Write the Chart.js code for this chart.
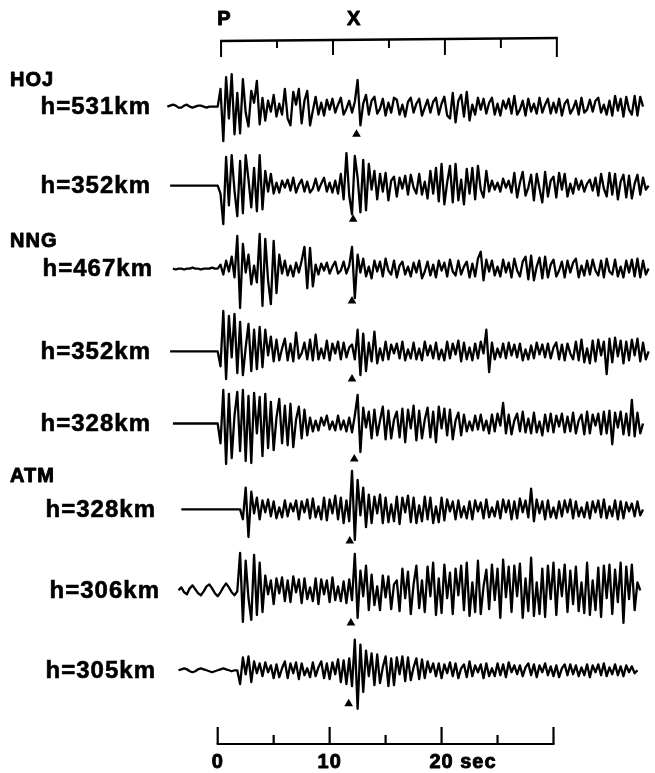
<!DOCTYPE html>
<html>
<head>
<meta charset="utf-8">
<script src="https://cdn.jsdelivr.net/npm/chart.js@4/dist/chart.umd.min.js"></script>
<style>
html,body{margin:0;padding:0;background:#fff;}
#c{display:block;}
</style>
</head>
<body>
<canvas id="c" width="655" height="773"></canvas>
<script>
// ---------- DATA ----------
const sampleStep = 0.25; // seconds between samples
const traceStart = [-4.5, -4.25, -4.0, -4.25, -4.0, -3.25, -3.5, -3.5]; // seconds
const stationNames = ['HOJ', 'NNG', 'ATM'];
const stationFirstTrace = [0, 2, 5];
const depthLabels = ['h=531km', 'h=352km', 'h=467km', 'h=352km', 'h=328km', 'h=328km', 'h=306km', 'h=305km'];
const arrivalTimeX = [12.4, 12.1, 12.0, 12.0, 12.2, 11.8, 11.9, 11.7]; // triangle marks (s)
const timeTicks = [0, 5, 10, 15, 20, 25, 30];
const timeTickLabels = ['0', '10', '20 sec'];
const timeTickLabelValues = [0, 10, 20];
const topMarkers = ['P', 'X'];
const topMarkerTimes = [0.6, 12.2];

// amplitudes (positive = up), one sample per 0.25 s
const hoj531 = [
 0,1,2,1,-1,-1,1,2,0,-1,0,1,1,0,-1,0,0,0,
 0,18,-35,30,-12,33,-28,14,
 -27,28,-6,-20,16,4,26,-18,
 9,-14,6,-5,12,-10,3,-8,
 18,-12,-19,15,2,18,-17,6,
 16,-19,-4,10,-8,4,-9,7,
 -3,8,-6,2,9,-8,-2,6,
 -6,5,27,-19,3,12,-8,6,
 10,-7,-2,8,-9,4,-6,9,
 7,-8,2,-10,5,9,-6,3,
 8,-9,-1,7,-6,5,9,-8,
 3,10,-9,-12,14,-16,6,12,
 -10,15,-14,2,-8,9,-3,8,
 -7,4,9,-8,3,-9,6,-2,
 8,-7,11,-8,-3,6,-9,8,
 -5,3,-7,9,-6,2,8,-7,
 4,-6,8,-9,3,7,-7,-2,
 6,-8,9,-6,-3,7,-5,6,
 9,-6,2,-8,6,-9,11,-4,
 8,-10,10,-3,-8,11,-9,10,
 0];
const hoj352 = [
 0,0,0,0,0,0,0,0,0,0,0,0,0,0,0,0,0,
 0,-8,-39,29,-20,31,-5,-31,
 25,-28,31,6,-22,18,-26,31,
 -24,15,-6,12,-8,3,-7,5,
 -2,6,-5,8,-7,1,6,-6,
 4,-7,-3,7,-5,2,8,-6,
 3,-7,5,-8,12,-14,33,-10,
 -29,30,8,-27,26,-25,22,-4,
 15,-14,12,-6,13,-15,5,9,
 -11,8,-3,10,-9,11,-2,-8,
 12,-9,4,-13,15,-8,18,-16,
 22,-19,3,20,-17,22,-15,6,
 -19,17,-8,18,-14,20,-4,-12,
 15,-6,5,-4,3,-6,7,-2,
 5,-7,13,-12,3,14,-10,-2,
 11,-15,12,-3,-17,14,-11,5,
 9,-12,13,-4,12,-11,2,-8,
 7,-4,5,-6,2,6,-5,8,
 -10,12,-3,-11,13,-9,12,-14,
 4,11,-12,10,-13,2,11,-9,
 8,-4,0];
const nng467 = [
 0,-1,0,0,-1,0,0,1,0,0,-1,0,0,0,1,0,
 0,4,-6,8,-3,12,-9,33,
 -40,25,-4,14,-16,3,-14,35,
 -38,30,-12,-36,28,-25,14,-5,
 8,-7,3,-8,6,-4,8,22,
 -20,21,-18,4,-6,5,-2,6,
 -5,2,7,-5,-2,7,-5,3,
 22,-30,14,-4,10,-8,2,-10,
 8,-3,7,-8,10,-2,-6,8,
 -9,3,7,-6,2,-8,6,-4,
 8,-10,-3,7,-7,4,-9,8,
 -2,6,-8,9,-3,-7,8,-6,
 2,7,-9,5,-8,10,17,-12,
 9,-3,8,-7,2,-8,9,-4,
 6,-9,10,-2,-8,7,12,-11,
 13,-12,2,11,-10,12,-9,4,
 9,-8,-2,7,-9,8,-4,6,
 10,-9,3,-7,8,-6,9,-2,
 -7,8,-9,10,-3,-6,9,-8,
 2,-9,8,-4,9,-8,10,-9,
 8,-6,0];
const nng352 = [
 0,0,0,0,0,0,0,0,0,0,0,0,0,0,0,0,0,
 0,-15,41,-28,36,-6,38,-22,
 30,-24,4,28,-20,22,-18,25,
 -16,22,-4,15,-10,12,-9,3,
 13,-9,8,-10,19,-7,-2,9,
 -8,12,-9,17,-8,3,-7,11,
 -9,8,-2,10,-8,9,-6,4,
 7,-8,22,-24,18,-20,9,-10,
 20,-12,3,-9,10,-8,7,-2,
 8,-7,10,-9,2,-7,9,-8,
 3,-9,10,-4,6,-7,9,-8,
 2,-9,10,-7,8,-3,11,-10,
 9,-8,4,-9,8,-7,10,-2,
 22,-21,9,-8,3,-6,8,-7,
 9,-4,7,-6,8,-9,2,-8,
 6,-7,9,-3,7,-6,8,-7,
 4,9,-8,7,-9,8,-2,-8,
 10,-9,12,-11,3,-12,11,-10,
 12,-4,10,-23,13,-11,14,-5,
 11,-12,10,-9,12,-4,13,-10,
 9,-8,0];
const nng328 = [
 0,0,0,0,0,0,0,0,0,0,0,0,0,0,0,0,
 0,-20,34,-41,30,-35,8,32,
 -28,34,-38,28,-40,31,-10,27,
 -33,30,-25,22,-27,6,25,-20,
 18,-22,20,-24,4,17,-15,14,
 -12,6,-8,3,-7,6,-2,8,
 -6,2,-7,8,-6,3,-8,6,
 -9,8,29,-29,16,-4,12,-15,
 14,-12,3,17,-16,13,-15,4,
 12,-14,15,-19,14,-5,18,-17,
 13,-15,4,16,-14,12,-19,17,
 -5,15,-12,14,-16,3,11,-12,
 9,-8,2,-7,8,-6,9,-7,
 3,-10,9,-8,10,-2,21,-10,
 9,-11,3,10,-8,12,-9,5,
 -10,11,-9,2,-12,9,-8,10,
 -9,8,-3,10,-9,7,-8,11,
 -10,3,9,-11,12,-10,9,-2,
 10,-11,12,-10,13,-21,11,-4,
 12,-11,10,-12,24,-13,11,-10,
 0];
const atm328 = [
 0,0,0,0,0,0,0,0,0,0,0,0,0,0,0,0,0,0,0,0,0,
 0,-10,22,-28,18,-4,12,-10,
 9,-3,10,-7,8,-9,2,-8,
 9,-7,6,-2,9,-10,8,-3,
 10,-9,11,-8,3,-10,12,-11,
 10,-4,14,-10,12,-14,9,-12,
 39,-31,30,-6,22,-18,15,-14,
 13,-4,15,-14,12,-13,5,-12,
 13,-15,12,-3,14,-13,12,-14,
 4,-12,13,-10,12,-14,3,-13,
 12,-11,10,-2,8,-10,9,-8,
 3,-9,8,-10,9,-2,7,-9,
 10,-8,2,-7,8,-9,10,-3,
 9,-10,8,-9,11,-3,9,-8,
 21,-12,10,-4,8,-10,9,-8,
 2,-9,8,-7,9,-3,10,-9,
 8,-7,2,-8,7,-9,8,-3,
 9,-8,10,-9,3,-7,9,-10,
 8,-9,7,-2,6,-7,8,-6,
 0];
const atm306 = [
 0,3,-2,-4,2,5,1,-3,-5,-1,4,6,2,-3,-6,-2,3,7,3,-2,-5,-1,
 38,-32,30,-8,-30,36,-25,28,
 -22,15,-4,10,-14,12,-3,13,
 -11,10,-12,14,-2,11,-13,12,
 -9,3,-11,12,-14,11,-4,10,
 -12,13,-10,4,-11,9,-13,11,
 -10,37,-28,20,-6,25,-20,16,
 -15,4,-20,15,-7,14,-19,6,
 10,-21,22,-8,19,-24,6,25,
 -18,10,-22,24,-6,28,-25,12,
 -23,26,-8,18,-24,22,-5,25,
 -20,28,-26,8,-22,30,-24,4,
 21,-19,26,-10,22,-28,31,-7,
 24,-22,25,-6,27,-28,12,-21,
 33,-26,8,-24,22,-27,25,-9,
 28,-25,21,-6,26,-22,20,-14,
 24,-21,8,-23,28,-25,10,-20,
 23,-27,25,-8,26,-24,21,-12,
 28,-33,24,-9,26,-20,8,0];
const atm305 = [
 0,1,2,1,-1,-2,-1,1,2,1,0,-1,-2,-1,0,1,2,1,0,-1,0,0,
 -14,13,-4,14,-12,9,-3,7,
 -6,8,-2,5,-8,6,-7,2,
 9,-8,7,-3,8,-9,7,-5,
 2,-7,8,-6,3,9,-8,7,
 -9,8,-4,11,-12,10,-14,12,
 -16,31,-39,26,-22,20,-6,17,
 -15,16,-13,3,14,-16,12,-15,
 13,-4,14,-11,13,-10,3,12,
 -9,11,-8,9,-2,7,-6,7,
 -8,6,-3,8,-6,7,-8,2,
 6,-7,9,-6,5,-2,6,-8,
 7,-6,2,-6,7,-5,6,-7,
 8,-2,5,-4,5,-6,3,7,
 -5,6,-7,5,-2,7,-5,4,
 -6,5,-7,2,6,-5,6,-4,
 5,-6,3,-5,6,-7,5,-2,
 6,-5,7,-6,3,-4,6,-5,
 4,-6,5,-2,4,-3,0];
const traces = [hoj531, hoj352, nng467, nng352, nng328, atm328, atm306, atm305];

// ---------- LAYOUT (positions / styles only) ----------
const W = 655, H = 773;
const pxPerSec = (557 - 216) / 30;
const xMin = -216 / pxPerSec, xMax = xMin + W / pxPerSec;
const traceBaseline = [103, 183, 267, 351, 424, 511, 593, 674];
const triangleGap = [28, 34, 33, 28, 36, 32, 33, 34];
const depthLabelRight = [151, 151, 153, 151, 151, 156, 160, 156];
const stationLabelGap = [27, 27, 33];
const FONT_L = 'bold 24px "Liberation Sans", Arial, sans-serif';
const FONT_S = 'bold 20px "Liberation Sans", Arial, sans-serif';

const datasets = traces.map((amps, i) => ({
  data: amps.map((a, k) => ({ x: traceStart[i] + k * sampleStep, y: traceBaseline[i] - a })),
  borderColor: '#000', borderWidth: 2.3, pointRadius: 0, tension: 0, fill: false,
  borderJoinStyle: 'round'
}));
datasets.push({
  type: 'scatter',
  data: arrivalTimeX.map((t, i) => ({ x: t, y: traceBaseline[i] + triangleGap[i] })),
  pointStyle: 'triangle', pointRadius: 5, backgroundColor: '#000', borderColor: '#000', borderWidth: 0
});

function boldText(ctx, s, x, y, w) {
  ctx.lineWidth = w;
  ctx.lineJoin = 'round';
  ctx.strokeText(s, x, y);
  ctx.fillText(s, x, y);
}

const decor = {
  id: 'decor',
  afterDraw(chart) {
    const ctx = chart.ctx, xs = chart.scales.x, ys = chart.scales.y;
    const X = v => xs.getPixelForValue(v);
    ctx.save();
    ctx.strokeStyle = '#000'; ctx.fillStyle = '#000';
    ctx.lineCap = 'butt';
    // bottom time bar
    const yb = 744;
    ctx.lineWidth = 2.2;
    ctx.beginPath(); ctx.moveTo(X(timeTicks[0]) - 1, yb); ctx.lineTo(X(timeTicks[timeTicks.length - 1]) + 1, yb); ctx.stroke();
    timeTicks.forEach(t => {
      const major = t % 10 === 0;
      ctx.beginPath(); ctx.moveTo(X(t), yb); ctx.lineTo(X(t), major ? 727 : 735); ctx.stroke();
    });
    // top bracket
    const shift = 0.3;
    const y0 = 41, y1 = 38;
    const yAt = t => y0 + (y1 - y0) * (t / 30);
    ctx.lineWidth = 2.4;
    ctx.beginPath(); ctx.moveTo(X(shift) - 1, yAt(0)); ctx.lineTo(X(30 + shift) + 1, yAt(30)); ctx.stroke();
    ctx.lineWidth = 2;
    timeTicks.forEach(t => {
      const major = t % 10 === 0;
      const end = (t === 0 || t === 30) ? 57 : (major ? 55 : 48);
      ctx.beginPath(); ctx.moveTo(X(t + shift), yAt(t)); ctx.lineTo(X(t + shift), end); ctx.stroke();
    });
    // texts
    ctx.textBaseline = 'middle';
    if ('letterSpacing' in ctx) ctx.letterSpacing = '1px';
    ctx.font = FONT_S; ctx.textAlign = 'left';
    timeTickLabels.forEach((s, i) => {
      const head = s.split(' ')[0];
      const w = ctx.measureText(head).width;
      boldText(ctx, s, X(timeTickLabelValues[i]) - w / 2, 762, 0.9);
    });
    ctx.textAlign = 'center';
    topMarkers.forEach((m, i) => boldText(ctx, m, X(topMarkerTimes[i]), 19, 0.9));
    ctx.font = FONT_L; ctx.textAlign = 'right';
    depthLabels.forEach((s, i) => boldText(ctx, s, depthLabelRight[i], ys.getPixelForValue(traceBaseline[i]) + 1, 0.6));
    ctx.font = FONT_S; ctx.textAlign = 'left';
    stationNames.forEach((s, i) => {
      const ti = stationFirstTrace[i];
      boldText(ctx, s, 10, ys.getPixelForValue(traceBaseline[ti] - stationLabelGap[i]), 0.9);
    });
    ctx.restore();
  }
};

new Chart(document.getElementById('c'), {
  type: 'line',
  data: { datasets },
  options: {
    responsive: false, animation: false, devicePixelRatio: 1,
    layout: { padding: 0 },
    scales: {
      x: { type: 'linear', min: xMin, max: xMax, display: false },
      y: { type: 'linear', min: 0, max: H, reverse: true, display: false }
    },
    plugins: { legend: { display: false }, tooltip: { enabled: false } }
  },
  plugins: [decor]
});
</script>
</body>
</html>
